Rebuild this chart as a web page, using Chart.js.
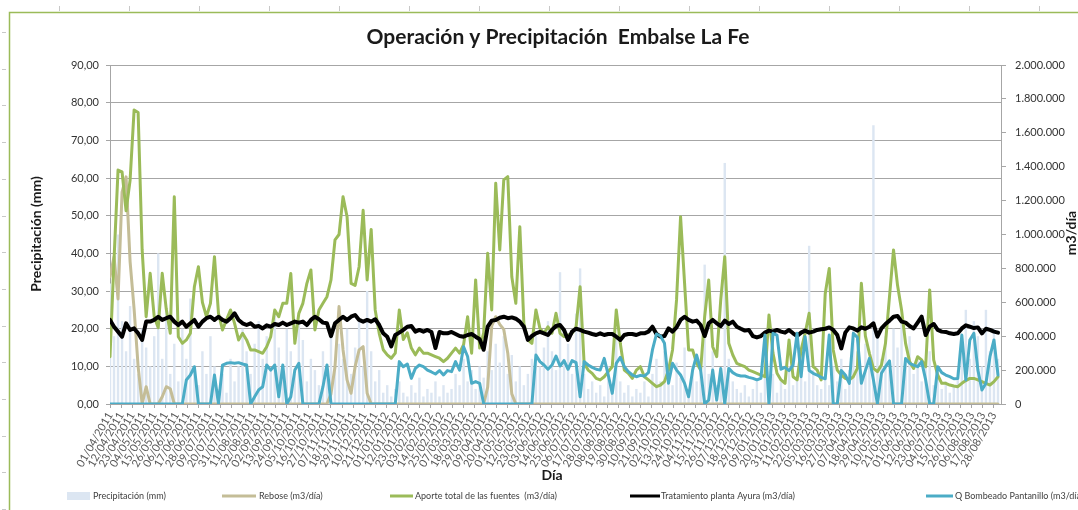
<!DOCTYPE html>
<html lang="es">
<head>
<meta charset="utf-8">
<title>Operación y Precipitación Embalse La Fe</title>
<script src="https://cdn.jsdelivr.net/npm/chart.js@4.4.1/dist/chart.umd.min.js"></script>
<style>
  html, body { margin: 0; padding: 0; background: #fff; overflow: hidden; }
  #wrap { width: 1078px; height: 510px; overflow: hidden; }
  canvas { display: block; }
</style>
</head>
<body>
<div id="wrap"><canvas id="grafico" width="1078" height="510"></canvas></div>
<script>
// ── Datos (un valor cada PASO días desde el 01/04/2011) ──
const PASO = 4;
const DIAS_ETIQUETA = 11;

const etiquetasX = [
  "01/04/2011", "12/04/2011", "23/04/2011", "04/05/2011", "15/05/2011", "26/05/2011", "06/06/2011", "17/06/2011",
  "28/06/2011", "09/07/2011", "20/07/2011", "31/07/2011", "11/08/2011", "22/08/2011", "02/09/2011", "13/09/2011",
  "24/09/2011", "05/10/2011", "16/10/2011", "27/10/2011", "07/11/2011", "18/11/2011", "29/11/2011", "10/12/2011",
  "21/12/2011", "01/01/2012", "12/01/2012", "23/01/2012", "03/02/2012", "14/02/2012", "25/02/2012", "07/03/2012",
  "18/03/2012", "29/03/2012", "09/04/2012", "20/04/2012", "01/05/2012", "12/05/2012", "23/05/2012", "03/06/2012",
  "14/06/2012", "25/06/2012", "06/07/2012", "17/07/2012", "28/07/2012", "08/08/2012", "19/08/2012", "30/08/2012",
  "10/09/2012", "21/09/2012", "02/10/2012", "13/10/2012", "24/10/2012", "04/11/2012", "15/11/2012", "26/11/2012",
  "07/12/2012", "18/12/2012", "29/12/2012", "09/01/2013", "20/01/2013", "31/01/2013", "11/02/2013", "22/02/2013",
  "05/03/2013", "16/03/2013", "27/03/2013", "07/04/2013", "18/04/2013", "29/04/2013", "10/05/2013", "21/05/2013",
  "01/06/2013", "12/06/2013", "23/06/2013", "04/07/2013", "15/07/2013", "26/07/2013", "06/08/2013", "17/08/2013",
  "28/08/2013"
];

// Precipitación (mm)
const precipitacion = [
  32, 18, 45, 22, 14, 26, 12, 8, 20, 15,
  10, 18, 40, 12, 25, 8, 16, 6, 20, 12,
  28, 10, 5, 14, 8, 18, 10, 4, 8, 3,
  12, 6, 10, 20, 14, 8, 16, 22, 12, 18,
  9, 24, 15, 10, 20, 14, 8, 22, 17, 6,
  12, 9, 5, 14, 8, 18, 10, 16, 12, 20,
  8, 15, 22, 10, 30, 14, 6, 9, 3, 5,
  2, 4, 6, 3, 2, 5, 3, 7, 2, 4,
  3, 6, 2, 5, 3, 4, 8, 5, 12, 6,
  9, 4, 10, 7, 14, 9, 16, 11, 18, 8,
  13, 6, 10, 5, 8, 12, 18, 10, 15, 22,
  14, 9, 35, 12, 16, 8, 24, 36, 8, 4,
  6, 3, 5, 2, 10, 4, 18, 6, 3, 5,
  2, 4, 3, 6, 2, 8, 12, 6, 14, 9,
  5, 11, 7, 15, 4, 10, 6, 12, 37, 8,
  14, 5, 9, 64, 12, 6, 4, 3, 5, 2,
  4, 6, 3, 16, 5, 8, 3, 6, 4, 10,
  5, 7, 12, 6, 42, 9, 5, 4, 8, 5,
  10, 6, 12, 4, 9, 20, 14, 8, 16, 10,
  74, 18, 12, 18, 9, 20, 15, 22, 11, 18,
  8, 12, 6, 10, 14, 5, 8, 4, 6, 3,
  5, 9, 16, 25, 12, 22, 18, 10, 25, 14,
  20, 12
];

// Rebose (m3/día)
const rebose = [
  751000, 869000, 620000, 1250000, 1340000, 840000, 560000, 220000, 0, 102000,
  0, 0, 0, 43000, 102000, 90000, 0, 0, 0, 0,
  0, 0, 0, 0, 0, 0, 0, 0, 0, 0,
  0, 0, 0, 0, 0, 0, 0, 0, 0, 0,
  0, 0, 0, 0, 0, 0, 0, 0, 0, 0,
  0, 0, 0, 0, 0, 60000, 220000, 575000, 319000, 142000,
  63000, 220000, 319000, 338000, 63000, 0, 0, 0, 0, 0,
  0, 0, 0, 0, 0, 0, 0, 0, 0, 0,
  0, 0, 0, 0, 0, 0, 0, 0, 0, 0,
  0, 0, 0, 0, 100000, 460000, 515000, 470000, 440000, 300000,
  60000, 0, 0, 0, 0, 0, 0, 0, 0, 0,
  0, 0, 0, 0, 0, 0, 0, 0, 0, 0,
  0, 0, 0, 0, 0, 0, 0, 0, 0, 0,
  0, 0, 0, 0, 0, 0, 0, 0, 0, 0,
  0, 0, 0, 0, 0, 0, 0, 0, 0, 0,
  0, 0, 0, 0, 0, 0, 0, 0, 0, 0,
  0, 0, 0, 0, 0, 0, 0, 0, 0, 0,
  0, 0, 0, 0, 0, 0, 0, 0, 0, 0,
  0, 0, 0, 0, 0, 0, 0, 0, 0, 0,
  0, 0, 0, 0, 0, 0, 0, 0, 0, 0,
  0, 0, 0, 0, 0, 0, 0, 0, 0, 0,
  0, 0, 0, 0, 0, 0, 0, 0, 0, 0,
  0, 0
];

// Aporte total de las fuentes (m3/día)
const aporte = [
  279000, 850000, 1380000, 1370000, 1140000, 1320000, 1735000, 1720000, 909000, 515000,
  771000, 515000, 450000, 771000, 560000, 417000, 1223000, 397000, 358000, 378000,
  417000, 692000, 810000, 600000, 515000, 594000, 869000, 535000, 437000, 496000,
  555000, 476000, 378000, 417000, 378000, 319000, 319000, 309000, 299000, 338000,
  397000, 555000, 515000, 594000, 594000, 770000, 358000, 535000, 594000, 712000,
  791000, 437000, 555000, 594000, 633000, 732000, 968000, 1000000, 1223000, 1105000,
  712000, 700000, 810000, 1143000, 732000, 1030000, 555000, 417000, 320000, 290000,
  270000, 300000, 555000, 380000, 420000, 330000, 290000, 330000, 300000, 300000,
  290000, 280000, 270000, 250000, 270000, 300000, 330000, 300000, 350000, 515000,
  300000, 732000, 330000, 420000, 889000, 555000, 1302000, 909000, 1322000, 1341000,
  751000, 594000, 1046000, 476000, 378000, 358000, 555000, 446000, 417000, 456000,
  417000, 535000, 417000, 397000, 407000, 417000, 456000, 692000, 240000, 200000,
  181000, 151000, 142000, 161000, 191000, 220000, 555000, 358000, 200000, 181000,
  151000, 200000, 220000, 161000, 142000, 122000, 102000, 112000, 132000, 200000,
  319000, 614000, 1105000, 712000, 319000, 319000, 240000, 200000, 515000, 731000,
  338000, 279000, 614000, 869000, 358000, 289000, 240000, 230000, 220000, 200000,
  191000, 181000, 171000, 161000, 525000, 300000, 181000, 142000, 122000, 378000,
  161000, 142000, 319000, 417000, 535000, 220000, 200000, 142000, 650000, 800000,
  319000, 200000, 171000, 151000, 142000, 161000, 210000, 712000, 400000, 299000,
  210000, 191000, 230000, 358000, 633000, 909000, 700000, 555000, 358000, 250000,
  210000, 279000, 260000, 220000, 673000, 260000, 171000, 122000, 122000, 112000,
  106000, 102000, 122000, 138000, 151000, 151000, 142000, 132000, 122000, 112000,
  132000, 161000
];

// Tratamiento planta Ayura (m3/día)
const tratamiento = [
  496000, 456000, 427000, 397000, 476000, 437000, 446000, 417000, 378000, 486000,
  486000, 496000, 515000, 496000, 506000, 515000, 486000, 466000, 486000, 456000,
  476000, 496000, 456000, 486000, 506000, 515000, 496000, 515000, 496000, 486000,
  506000, 535000, 496000, 476000, 466000, 476000, 456000, 460000, 446000, 464000,
  456000, 472000, 466000, 480000, 466000, 476000, 486000, 480000, 486000, 466000,
  496000, 515000, 500000, 480000, 476000, 400000, 476000, 496000, 515000, 496000,
  515000, 525000, 496000, 486000, 496000, 486000, 500000, 466000, 417000, 397000,
  340000, 407000, 421000, 437000, 456000, 460000, 427000, 437000, 427000, 437000,
  425000, 330000, 425000, 417000, 417000, 425000, 413000, 401000, 397000, 407000,
  413000, 397000, 382000, 320000, 456000, 492000, 496000, 509000, 515000, 506000,
  511000, 503000, 486000, 456000, 378000, 401000, 417000, 425000, 417000, 407000,
  437000, 460000, 466000, 437000, 378000, 427000, 444000, 437000, 427000, 421000,
  413000, 407000, 417000, 407000, 413000, 413000, 397000, 378000, 407000, 413000,
  413000, 407000, 417000, 417000, 427000, 456000, 413000, 397000, 401000, 446000,
  427000, 452000, 496000, 515000, 496000, 486000, 492000, 466000, 401000, 476000,
  496000, 476000, 460000, 492000, 472000, 486000, 456000, 444000, 433000, 437000,
  401000, 393000, 401000, 421000, 433000, 427000, 437000, 427000, 421000, 437000,
  417000, 401000, 421000, 433000, 421000, 427000, 437000, 441000, 444000, 452000,
  437000, 407000, 328000, 421000, 452000, 446000, 433000, 452000, 444000, 456000,
  476000, 397000, 446000, 472000, 492000, 515000, 519000, 486000, 480000, 460000,
  446000, 480000, 515000, 407000, 456000, 472000, 437000, 427000, 425000, 417000,
  413000, 417000, 446000, 464000, 456000, 448000, 452000, 417000, 444000, 437000,
  427000, 421000
];

// Q Bombeado Pantanillo (m3/día)
const bombeado = [
  0, 0, 0, 0, 0, 0, 0, 0, 0, 0,
  0, 0, 0, 0, 0, 0, 0, 0, 0, 142000,
  171000, 220000, 0, 0, 0, 0, 171000, 0, 230000, 240000,
  244000, 240000, 244000, 236000, 230000, 0, 43000, 83000, 102000, 230000,
  200000, 230000, 43000, 230000, 0, 43000, 200000, 240000, 0, 0,
  0, 0, 0, 102000, 230000, 0, 0, 0, 0, 0,
  0, 0, 0, 0, 0, 0, 0, 0, 0, 0,
  0, 0, 250000, 220000, 236000, 151000, 210000, 230000, 220000, 200000,
  189000, 177000, 197000, 171000, 197000, 191000, 250000, 200000, 338000, 280000,
  122000, 132000, 122000, 0, 0, 0, 0, 0, 0, 0,
  0, 0, 0, 0, 0, 0, 289000, 250000, 230000, 205000,
  230000, 283000, 224000, 256000, 205000, 256000, 244000, 43000, 250000, 230000,
  216000, 205000, 200000, 269000, 171000, 63000, 240000, 275000, 220000, 191000,
  171000, 161000, 169000, 165000, 185000, 319000, 413000, 401000, 358000, 122000,
  240000, 200000, 171000, 122000, 43000, 200000, 289000, 200000, 0, 24000,
  200000, 24000, 210000, 0, 210000, 185000, 171000, 165000, 165000, 157000,
  151000, 142000, 151000, 407000, 0, 417000, 407000, 205000, 216000, 197000,
  230000, 417000, 161000, 397000, 197000, 181000, 171000, 157000, 149000, 407000,
  0, 0, 197000, 171000, 122000, 417000, 393000, 122000, 197000, 269000,
  142000, 0, 181000, 220000, 254000, 0, 0, 0, 269000, 240000,
  230000, 220000, 250000, 142000, 0, 0, 220000, 185000, 171000, 161000,
  149000, 151000, 407000, 142000, 378000, 417000, 200000, 83000, 122000, 279000,
  378000, 171000
];

// ── Helpers ─────────────────────────────────────────────
const serie = arr => arr.map((v, i) => ({ x: i * PASO, y: v }));
const miles = v => String(Math.round(v)).replace(/\B(?=(\d{3})+(?!\d))/g, ".");
const FUENTE = "Lato, 'Open Sans', sans-serif";

// ── Título, ejes y leyenda dibujados a mano ─────────────
const leyenda = [
  { tipo: "caja",  x0: 67,  x1: 90,  color: "#dce6f2", texto: "Precipitación (mm)", tx: 93 },
  { tipo: "linea", x0: 222, x1: 256, color: "#c4bd97", texto: "Rebose (m3/día)", tx: 259 },
  { tipo: "linea", x0: 390, x1: 413, color: "#9bbb59", texto: "Aporte total de las fuentes  (m3/día)", tx: 415 },
  { tipo: "linea", x0: 630, x1: 660, color: "#000000", texto: "Tratamiento planta Ayura (m3/día)", tx: 661 },
  { tipo: "linea", x0: 926, x1: 953, color: "#4bacc6", texto: "Q Bombeado Pantanillo (m3/día)", tx: 955 }
];

const decoracion = {
  id: "decoracion",
  beforeDraw(chart) {
    const ctx = chart.ctx;
    ctx.save();
    ctx.fillStyle = "#ffffff";
    ctx.fillRect(0, 0, chart.width, chart.height);

    // regla de Excel arriba y a la izquierda
    ctx.strokeStyle = "#c8c8c8";
    ctx.lineWidth = 1;
    for (let x = 59; x < chart.width - 20; x += 70) {
      ctx.beginPath(); ctx.moveTo(x + 0.5, 6); ctx.lineTo(x + 0.5, 11); ctx.stroke();
    }
    for (let y = 32; y < chart.height; y += 36.7) {
      ctx.beginPath(); ctx.moveTo(2, Math.round(y) + 0.5); ctx.lineTo(6, Math.round(y) + 0.5); ctx.stroke();
    }

    // marco verde del área del gráfico (solo arriba e izquierda)
    ctx.strokeStyle = "#9bbb59";
    ctx.lineWidth = 1.5;
    ctx.beginPath();
    ctx.moveTo(chart.width + 5, 12.5);
    ctx.lineTo(9.5, 12.5);
    ctx.lineTo(9.5, chart.height + 5);
    ctx.stroke();
    ctx.restore();
  },
  afterDraw(chart) {
    const ctx = chart.ctx;
    ctx.save();
    ctx.fillStyle = "#1a1a1a";
    ctx.textAlign = "center";
    ctx.textBaseline = "middle";

    ctx.font = "bold 21px " + FUENTE;
    ctx.fillText("Operación y Precipitación  Embalse La Fe", 558, 37);

    ctx.font = "bold 14px " + FUENTE;
    ctx.fillText("Día", 552, 475);

    ctx.save();
    ctx.translate(36, 234);
    ctx.rotate(-Math.PI / 2);
    ctx.fillText("Precipitación (mm)", 0, 0);
    ctx.restore();

    ctx.save();
    ctx.translate(1071, 233);
    ctx.rotate(-Math.PI / 2);
    ctx.fillText("m3/día", 0, 0);
    ctx.restore();

    // leyenda
    ctx.textAlign = "left";
    ctx.font = "9px " + FUENTE;
    const yl = 496;
    leyenda.forEach(it => {
      if (it.tipo === "caja") {
        ctx.fillStyle = it.color;
        ctx.fillRect(it.x0, yl - 4, it.x1 - it.x0, 8);
      } else {
        ctx.strokeStyle = it.color;
        ctx.lineWidth = 3;
        ctx.beginPath(); ctx.moveTo(it.x0, yl); ctx.lineTo(it.x1, yl); ctx.stroke();
      }
      ctx.fillStyle = "#404040";
      ctx.fillText(it.texto, it.tx, yl);
    });
    ctx.restore();
  }
};

// ── Gráfico ─────────────────────────────────────────────
const lineaBase = {
  type: "line",
  yAxisID: "yR",
  borderWidth: 3,
  pointRadius: 0,
  tension: 0,
  borderJoinStyle: "round",
  borderCapStyle: "round"
};

new Chart(document.getElementById("grafico"), {
  type: "line",
  data: {
    datasets: [
      {
        type: "bar",
        label: "Precipitación (mm)",
        data: serie(precipitacion),
        yAxisID: "yL",
        backgroundColor: "#dce6f2",
        barPercentage: 1,
        categoryPercentage: 0.6,
        order: 5
      },
      { ...lineaBase, label: "Rebose (m3/día)", data: serie(rebose), borderColor: "#c4bd97", order: 4 },
      { ...lineaBase, label: "Aporte total de las fuentes  (m3/día)", data: serie(aporte), borderColor: "#9bbb59", order: 3 },
      { ...lineaBase, label: "Tratamiento planta Ayura (m3/día)", data: serie(tratamiento), borderColor: "#000000", borderWidth: 4, order: 2 },
      { ...lineaBase, label: "Q Bombeado Pantanillo (m3/día)", data: serie(bombeado), borderColor: "#4bacc6", order: 1 }
    ]
  },
  options: {
    responsive: false,
    animation: false,
    devicePixelRatio: 1,
    layout: { padding: { top: 65, left: 0, right: 0, bottom: 0 } },
    plugins: {
      legend: { display: false },
      tooltip: { enabled: false }
    },
    scales: {
      x: {
        type: "linear",
        min: 0,
        max: 887,
        offset: false,
        afterBuildTicks: s => { s.ticks = etiquetasX.map((_, i) => ({ value: i * DIAS_ETIQUETA })); },
        afterFit: s => { s.height = 106; },
        ticks: {
          autoSkip: false,
          minRotation: 60,
          maxRotation: 60,
          padding: 2,
          color: "#595959",
          font: { family: FUENTE, size: 11 },
          callback: (v, i) => etiquetasX[i]
        },
        grid: { drawOnChartArea: false, drawTicks: true, tickLength: 4, color: "#a6a6a6", offset: false },
        border: { color: "#a6a6a6" }
      },
      yL: {
        position: "left",
        min: 0,
        max: 90,
        afterFit: s => { s.width = 110; },
        ticks: {
          stepSize: 10,
          padding: 7,
          color: "#333333",
          font: { family: FUENTE, size: 11 },
          callback: v => v.toFixed(2).replace(".", ",")
        },
        grid: { color: "#a6a6a6", tickLength: 4 },
        border: { color: "#a6a6a6" }
      },
      yR: {
        position: "right",
        min: 0,
        max: 2000000,
        afterFit: s => { s.width = 77; },
        ticks: {
          stepSize: 200000,
          padding: 9,
          color: "#333333",
          font: { family: FUENTE, size: 11 },
          callback: v => miles(v)
        },
        grid: { drawOnChartArea: false, tickLength: 5, color: "#a6a6a6" },
        border: { color: "#a6a6a6" }
      }
    }
  },
  plugins: [decoracion]
});
</script>
</body>
</html>
